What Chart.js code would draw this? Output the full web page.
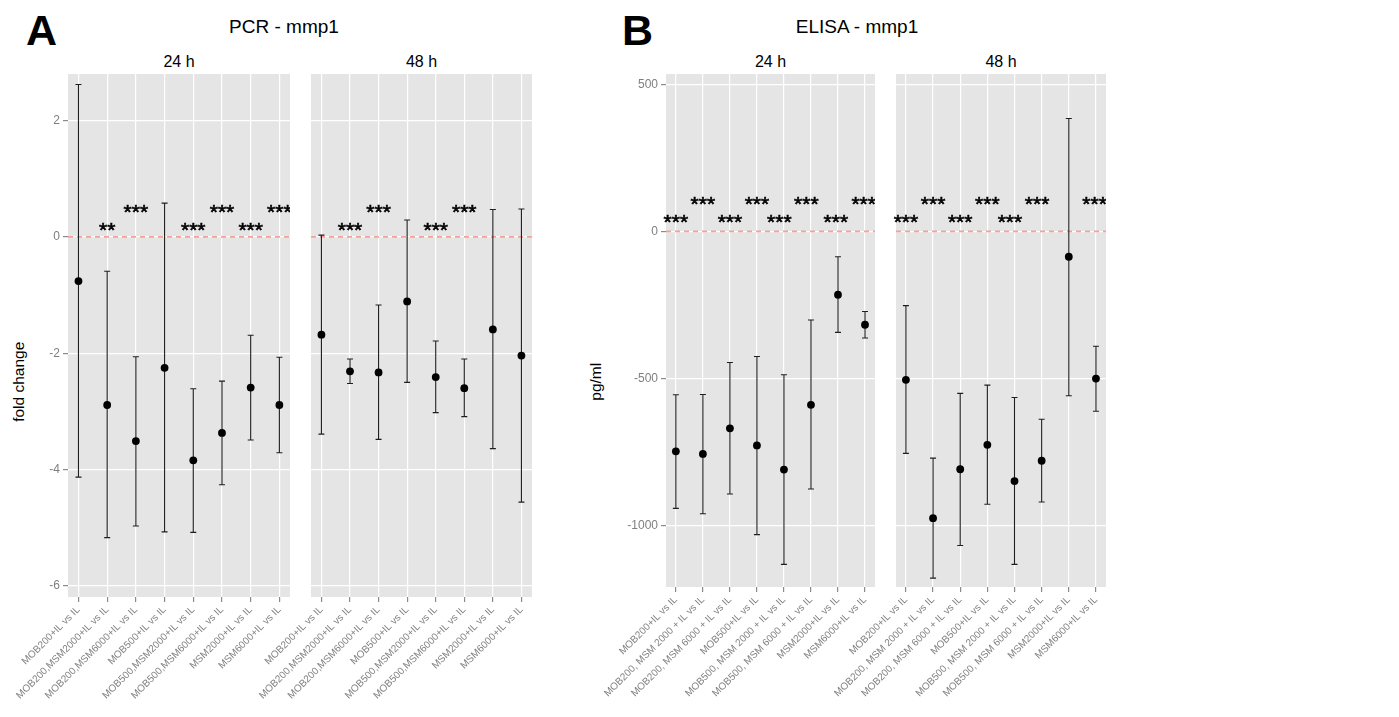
<!DOCTYPE html>
<html lang="en">
<head>
    <meta charset="UTF-8">
    <title>mmp1 - PCR / ELISA</title>
    <script src="https://cdn.jsdelivr.net/npm/chart.js@4.4.1/dist/chart.umd.min.js"></script>
    <style>
        body { margin: 0; background: #fff; font-family: 'Liberation Sans', Arial, sans-serif; }
        #page { position: relative; width: 1399px; height: 717px; overflow: hidden; }
        #page canvas { position: absolute; top: 40px; }
        .txt { position: absolute; line-height: 1; white-space: nowrap; color: #000; }
        .big { font-size: 43px; font-weight: bold; }
        .title { font-size: 19px; width: 300px; text-align: center; top: 16.6px; }
        .strip { font-size: 16px; width: 100px; text-align: center; top: 53.8px; }
        .ytitle { font-size: 15.5px; width: 200px; text-align: center; transform: rotate(-90deg); }
    </style>
</head>
<body>
<div id="page">
    <div class="txt big" style="left:26px; top:9.4px;">A</div>
    <div class="txt big" style="left:622px; top:9.4px;">B</div>
    <div class="txt title" style="left:134px;">PCR - mmp1</div>
    <div class="txt title" style="left:707px;">ELISA - mmp1</div>
    <div class="txt strip" style="left:129px;">24 h</div>
    <div class="txt strip" style="left:371.5px;">48 h</div>
    <div class="txt strip" style="left:720.5px;">24 h</div>
    <div class="txt strip" style="left:951px;">48 h</div>
    <div class="txt ytitle" style="left:-81px; top:374px;">fold change</div>
    <div class="txt ytitle" style="left:495.5px; top:374px;">pg/ml</div>

    <canvas id="a24" width="290" height="677" style="left:0px;"></canvas>
    <canvas id="a48" width="291" height="677" style="left:241px;"></canvas>
    <canvas id="b24" width="315" height="677" style="left:560px;"></canvas>
    <canvas id="b48" width="290" height="677" style="left:816px;"></canvas>
</div>

<script>
    // comparisons on the x axis
    const labelsPCR = ['MOB200+IL vs IL', 'MOB200,MSM2000+IL vs IL', 'MOB200,MSM6000+IL vs IL', 'MOB500+IL vs IL',
        'MOB500,MSM2000+IL vs IL', 'MOB500,MSM6000+IL vs IL', 'MSM2000+IL vs IL', 'MSM6000+IL vs IL'];
    const labelsELISA = ['MOB200+IL vs IL', 'MOB200, MSM 2000 + IL vs IL', 'MOB200, MSM 6000 + IL vs IL', 'MOB500+IL vs IL',
        'MOB500, MSM 2000 + IL vs IL', 'MOB500, MSM 6000 + IL vs IL', 'MSM2000+IL vs IL', 'MSM6000+IL vs IL'];

    // PCR fold change, 24 h
    const pcr24Mean = [-0.76, -2.89, -3.51, -2.25, -3.84, -3.37, -2.59, -2.89];
    const pcr24Low  = [-4.13, -5.17, -4.97, -5.07, -5.08, -4.26, -3.49, -3.71];
    const pcr24High = [2.62, -0.59, -2.06, 0.58, -2.61, -2.48, -1.69, -2.07];
    // PCR fold change, 48 h
    const pcr48Mean = [-1.68, -2.31, -2.33, -1.11, -2.41, -2.60, -1.59, -2.04];
    const pcr48Low  = [-3.39, -2.52, -3.48, -2.50, -3.02, -3.09, -3.64, -4.56];
    const pcr48High = [0.03, -2.10, -1.17, 0.29, -1.79, -2.10, 0.47, 0.48];

    // ELISA pg/ml, 24 h
    const elisa24Mean = [-747, -756, -669, -727, -809, -589, -215, -317];
    const elisa24Low  = [-941, -959, -892, -1030, -1131, -875, -343, -362];
    const elisa24High = [-555, -554, -445, -425, -487, -301, -86, -272];
    // ELISA pg/ml, 48 h
    const elisa48Mean = [-504, -974, -808, -725, -848, -779, -86, -500];
    const elisa48Low  = [-754, -1178, -1067, -927, -1131, -919, -558, -611];
    const elisa48High = [-252, -770, -550, -522, -564, -638, 384, -390];

    // significance labels and where they sit
    const pcr24Stars = ['', '**', '***', '', '***', '***', '***', '***'];
    const pcr24StarY = [null, 0.09, 0.40, null, 0.09, 0.40, 0.09, 0.40];
    const pcr48Stars = ['', '***', '***', '', '***', '***', '', ''];
    const pcr48StarY = [null, 0.09, 0.40, null, 0.09, 0.40, null, null];
    const pcrStarX = [0, 1, 2, 3, 4, 5, 6, 7];
    const elisa24Stars = ['***', '***', '***', '***', '***', '***', '***', '***'];
    const elisa24StarY = [28, 88, 28, 88, 28, 88, 28, 88];
    const elisa48Stars = ['***', '***', '***', '***', '***', '***', '', '***'];
    const elisa48StarY = [28, 88, 28, 88, 28, 88, null, 88];
    const elisaStarX = [0, 1, 2, 3, 3.83, 4.83, 5.92, 6.95];

    // y axis ticks
    const pcrTicks = [-6, -4, -2, 0, 2];
    const elisaTicks = [-1000, -500, 0, 500];

    Chart.defaults.font.family = "'Liberation Sans', Arial, sans-serif";

    function facet(id, f) {
        const deco = {
            id: 'deco_' + id,
            beforeDraw(chart) {
                const a = chart.chartArea, ctx = chart.ctx;
                ctx.save();
                ctx.fillStyle = '#e5e5e5';
                ctx.fillRect(a.left, a.top, a.right - a.left, a.bottom - a.top);
                ctx.restore();
            },
            beforeDatasetsDraw(chart) {
                const a = chart.chartArea, ctx = chart.ctx;
                const x = chart.scales.x, y = chart.scales.y;
                // dashed reference line at zero
                ctx.save();
                ctx.strokeStyle = '#f5a199';
                ctx.lineWidth = 1.7;
                ctx.setLineDash([5, 4]);
                const y0 = y.getPixelForValue(0);
                ctx.beginPath();
                ctx.moveTo(a.left, y0);
                ctx.lineTo(a.right, y0);
                ctx.stroke();
                ctx.setLineDash([]);
                // error bars
                ctx.strokeStyle = '#1e1e1e';
                ctx.lineWidth = 1.1;
                f.low.forEach((lo, i) => {
                    const px = x.getPixelForValue(i);
                    const y1 = y.getPixelForValue(lo);
                    const y2 = y.getPixelForValue(f.high[i]);
                    ctx.beginPath();
                    ctx.moveTo(px, y1); ctx.lineTo(px, y2);
                    ctx.moveTo(px - 3, y1); ctx.lineTo(px + 3, y1);
                    ctx.moveTo(px - 3, y2); ctx.lineTo(px + 3, y2);
                    ctx.stroke();
                });
                ctx.restore();
            },
            afterDatasetsDraw(chart) {
                const ctx = chart.ctx, x = chart.scales.x, y = chart.scales.y;
                ctx.save();
                ctx.fillStyle = '#000';
                ctx.strokeStyle = '#000';
                ctx.lineWidth = 0.6;
                ctx.font = "21px 'Liberation Sans', Arial, sans-serif";
                ctx.textAlign = 'center';
                ctx.textBaseline = 'middle';
                f.stars.forEach((s, i) => {
                    if (!s) return;
                    const px = x.getPixelForValue(f.starX[i]), py = y.getPixelForValue(f.starY[i]);
                    ctx.fillText(s, px, py);
                    ctx.strokeText(s, px, py);
                });
                ctx.restore();
            }
        };

        return new Chart(document.getElementById(id), {
            type: 'scatter',
            data: {
                datasets: [{
                    data: f.mean.map((v, i) => ({ x: i, y: v })),
                    pointRadius: 3.9,
                    pointHoverRadius: 3.9,
                    backgroundColor: '#000',
                    borderWidth: 0,
                    showLine: false
                }]
            },
            options: {
                responsive: false,
                animation: false,
                devicePixelRatio: 1,
                layout: { autoPadding: false, padding: { top: 34, left: f.padLeft, right: 0, bottom: 0 } },
                plugins: { legend: { display: false }, tooltip: { enabled: false } },
                scales: {
                    x: {
                        type: 'linear',
                        min: -0.365,
                        max: 7.37,
                        afterBuildTicks: s => { s.ticks = f.labels.map((_, i) => ({ value: i })); },
                        afterFit: s => { s.height = f.xHeight; s.paddingLeft = 0; s.paddingRight = 0; },
                        ticks: {
                            autoSkip: false,
                            minRotation: 45,
                            maxRotation: 45,
                            color: '#7f7f7f',
                            padding: 2,
                            font: { size: 10 },
                            callback: v => f.labels[v]
                        },
                        grid: { color: '#ffffff', lineWidth: 1.2, tickColor: '#8a8a8a', tickLength: 5 },
                        border: { display: false }
                    },
                    y: {
                        min: f.yMin,
                        max: f.yMax,
                        afterBuildTicks: s => { s.ticks = f.yTicks.map(v => ({ value: v })); },
                        afterFit: s => { s.width = f.yWidth; s.paddingTop = 0; s.paddingBottom = 0; },
                        ticks: {
                            display: f.showY,
                            color: '#7f7f7f',
                            padding: 3,
                            font: { size: 12 },
                            callback: v => String(v)
                        },
                        grid: { color: '#ffffff', lineWidth: 1.2, tickColor: '#8a8a8a', tickLength: 5, drawTicks: f.showY },
                        border: { display: false }
                    }
                }
            },
            plugins: [deco]
        });
    }

    facet('a24', { labels: labelsPCR, mean: pcr24Mean, low: pcr24Low, high: pcr24High,
        stars: pcr24Stars, starY: pcr24StarY, starX: pcrStarX,
        yMin: -6.19, yMax: 2.80, yTicks: pcrTicks, showY: true, yWidth: 68, padLeft: 0, xHeight: 120 });
    facet('a48', { labels: labelsPCR, mean: pcr48Mean, low: pcr48Low, high: pcr48High,
        stars: pcr48Stars, starY: pcr48StarY, starX: pcrStarX,
        yMin: -6.19, yMax: 2.80, yTicks: pcrTicks, showY: false, yWidth: 0, padLeft: 70, xHeight: 120 });
    facet('b24', { labels: labelsELISA, mean: elisa24Mean, low: elisa24Low, high: elisa24High,
        stars: elisa24Stars, starY: elisa24StarY, starX: elisaStarX,
        yMin: -1208, yMax: 535, yTicks: elisaTicks, showY: true, yWidth: 106, padLeft: 0, xHeight: 130 });
    facet('b48', { labels: labelsELISA, mean: elisa48Mean, low: elisa48Low, high: elisa48High,
        stars: elisa48Stars, starY: elisa48StarY, starX: elisaStarX,
        yMin: -1208, yMax: 535, yTicks: elisaTicks, showY: false, yWidth: 0, padLeft: 80, xHeight: 130 });
</script>
</body>
</html>
